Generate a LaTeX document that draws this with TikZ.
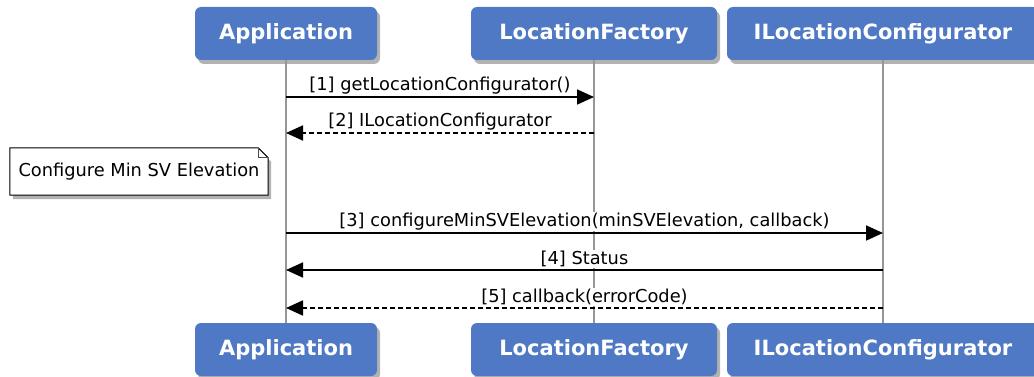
\documentclass[tikz,border=0pt]{standalone}
\usepackage{fontspec}
\setmainfont{DejaVu Sans}
\usetikzlibrary{arrows.meta,shadows}
\definecolor{boxblue}{RGB}{79,121,196}
\definecolor{lifegray}{RGB}{150,150,150}
\begin{document}
\begin{tikzpicture}[x=1pt, y=-1pt,
    actor/.style={rectangle, rounded corners=6pt, fill=boxblue, text=white,
        minimum height=53pt, inner sep=0pt,
        font=\fontsize{21}{24}\selectfont\bfseries,
        drop shadow={shadow xshift=3pt, shadow yshift=-4pt, fill=black!60, opacity=0.5}},
    lifeline/.style={draw=lifegray, line width=2pt},
    msg/.style={line width=1.8pt, -{Triangle[length=17pt, width=15pt]}},
    reply/.style={msg, dash pattern=on 5pt off 3pt},
    lbl/.style={fill=white, inner sep=1pt, font=\fontsize{17.8}{20}\selectfont}
]
\useasboundingbox (0,0) rectangle (1034,377);
\def\xa{286}
\def\xb{594}
\def\xc{883}

% lifeline heads and feet
\node[actor, minimum width=182pt] (appT) at (\xa,33.5)  {Application};
\node[actor, minimum width=246pt] (facT) at (\xb,33.5)  {LocationFactory};
\node[actor, minimum width=312pt] (cfgT) at (\xc,33.5)  {ILocationConfigurator};
\node[actor, minimum width=182pt] (appB) at (\xa,349.5) {Application};
\node[actor, minimum width=246pt] (facB) at (\xb,349.5) {LocationFactory};
\node[actor, minimum width=312pt] (cfgB) at (\xc,349.5) {ILocationConfigurator};

\draw[lifeline] (appT.south) -- (appB.north);
\draw[lifeline] (facT.south) -- (facB.north);
\draw[lifeline] (cfgT.south) -- (cfgB.north);

% end points of the messages
\coordinate (a1) at (\xa,97);  \coordinate (b1) at (\xb,97);
\coordinate (a2) at (\xa,133); \coordinate (b2) at (\xb,133);
\coordinate (a3) at (\xa,233); \coordinate (c3) at (\xc,233);
\coordinate (a4) at (\xa,270); \coordinate (c4) at (\xc,270);
\coordinate (a5) at (\xa,308); \coordinate (c5) at (\xc,308);

\draw[msg]   (a1) -- (b1) node[midway, above=1pt, lbl] {[1] getLocationConfigurator()};
\draw[reply] (b2) -- (a2) node[midway, above=1pt, lbl] {[2] ILocationConfigurator};
\draw[msg]   (a3) -- (c3) node[midway, above=1pt, lbl] {[3] configureMinSVElevation(minSVElevation, callback)};
\draw[msg]   (c4) -- (a4) node[midway, above=1pt, lbl] {[4] Status};
\draw[reply] (c5) -- (a5) node[midway, above=1pt, lbl] {[5] callback(errorCode)};

% note with folded corner
\node[minimum width=258pt, minimum height=47pt, inner sep=0pt] (note) at (139,171.5) {};
\fill[black!60, opacity=0.5] ([shift={(3pt,-4pt)}]note.north west) -- ([shift={(-7pt,-4pt)}]note.north east)
    -- ([shift={(3pt,-14pt)}]note.north east) -- ([shift={(3pt,-4pt)}]note.south east)
    -- ([shift={(3pt,-4pt)}]note.south west) -- cycle;
\filldraw[fill=white, draw=black, line width=1pt] (note.north west) -- ([xshift=-10pt]note.north east)
    -- ([yshift=-10pt]note.north east) -- (note.south east) -- (note.south west) -- cycle;
\node[font=\fontsize{17.8}{20}\selectfont] (notetext) at (note.center) {Configure Min SV Elevation};
\draw[black!70, line width=0.8pt] ([xshift=-10pt]note.north east) |- ([yshift=-10pt]note.north east);

\end{tikzpicture}
\end{document}
